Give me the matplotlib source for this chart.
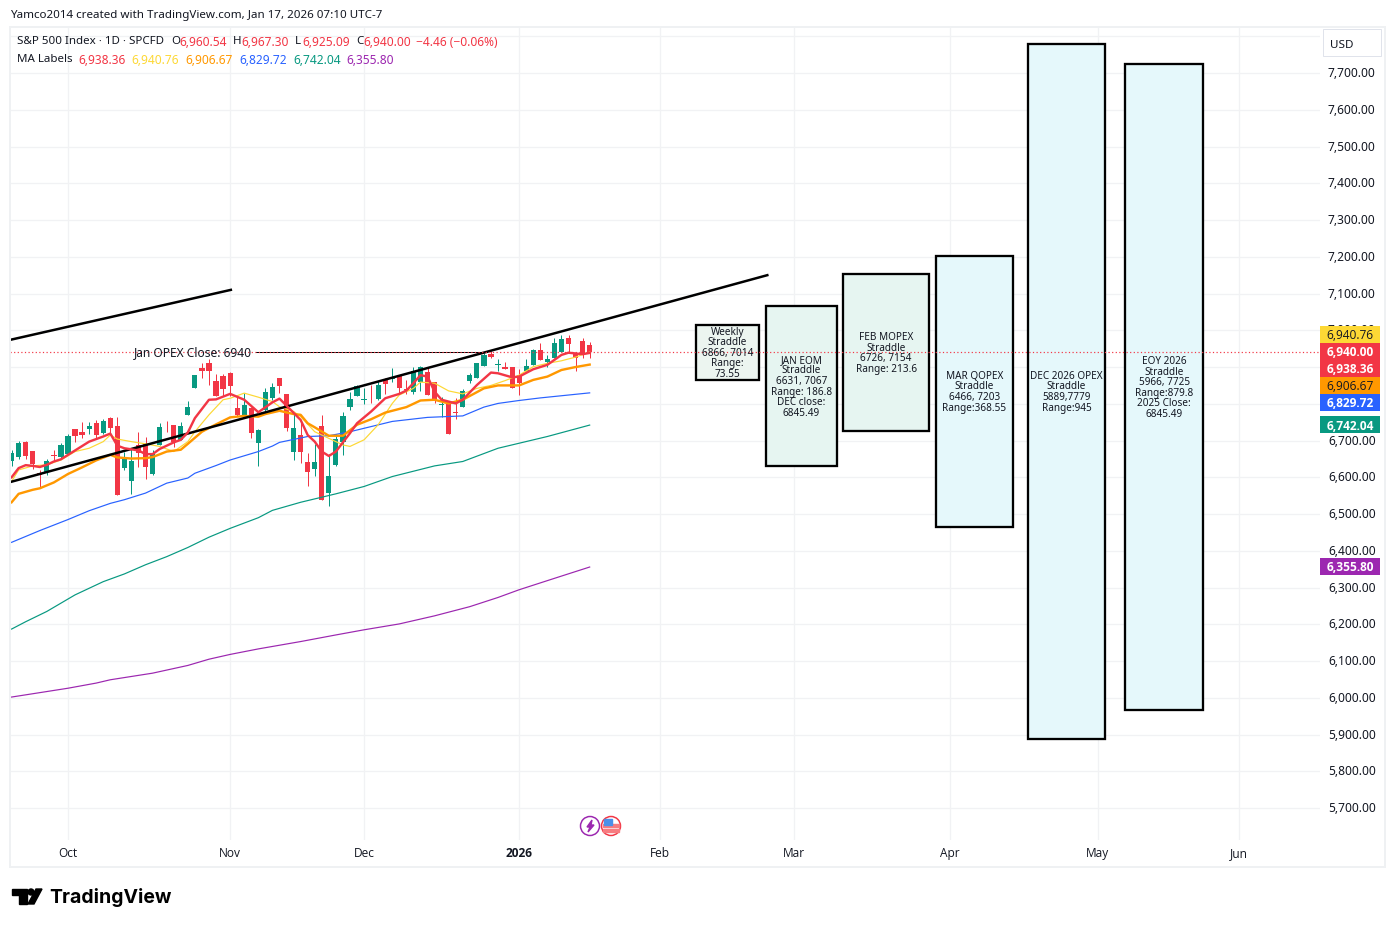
import numpy as np
import matplotlib
matplotlib.use("Agg")
import matplotlib.pyplot as plt
from matplotlib.patches import Circle, Polygon, Rectangle

plt.rcParams['font.family'] = ['Noto Sans', 'DejaVu Sans']

# Candles, bar 0 is Oct 1
bars = list(range(-8, 75))
opens = [6645, 6654, 6695, 6672, 6611, 6614, 6661, 6655, 6663, 6732, 6724, 6732, 6748, 6720, 6762, 6740,
         6626, 6590, 6687, 6691, 6609, 6688, 6738, 6743, 6702, 6770, 6843, 6898, 6912, 6862, 6876, 6884,
         6789, 6767, 6788, 6694, 6783, 6815, 6869, 6827, 6670, 6714, 6641, 6623, 6740, 6556, 6634, 6697,
         6792, 6821, 6811, 6833, 6812, 6867, 6867, 6877, 6840, 6832, 6859, 6886, 6859, 6798, 6803, 6778,
         6792, 6862, 6871, 6903, 6936, 6906, 6899, 6900, 6878, 6889, 6906, 6946, 6914, 6925, 6940, 6979,
         6939, 6970, 6960.54]
highs = [6673, 6700, 6699, 6672, 6620, 6649, 6675, 6693, 6718, 6732, 6751, 6750, 6756, 6758, 6763, 6763,
         6670, 6681, 6723, 6709, 6673, 6747, 6752, 6743, 6750, 6808, 6877, 6912, 6922, 6880, 6880, 6886,
         6821, 6830, 6790, 6731, 6842, 6856, 6871, 6827, 6774, 6753, 6666, 6690, 6770, 6663, 6718, 6777,
         6832, 6851, 6842, 6851, 6863, 6869, 6897, 6878, 6865, 6899, 6903, 6899, 6859, 6818, 6803, 6815,
         6840, 6883, 6912, 6939, 6945, 6921, 6913, 6900, 6895, 6921, 6949, 6966, 6933, 6978, 6987, 6987,
         6940, 6978, 6967.30]
lows = [6632, 6651, 6649, 6623, 6570, 6605, 6645, 6652, 6661, 6695, 6708, 6718, 6704, 6718, 6720, 6551,
        6620, 6555, 6629, 6596, 6605, 6688, 6724, 6682, 6702, 6770, 6843, 6871, 6851, 6822, 6822, 6821,
        6767, 6763, 6708, 6632, 6777, 6811, 6830, 6727, 6647, 6640, 6575, 6604, 6537, 6523, 6631, 6661,
        6783, 6821, 6800, 6801, 6811, 6827, 6860, 6827, 6827, 6827, 6836, 6824, 6803, 6763, 6718, 6759,
        6792, 6857, 6871, 6903, 6924, 6889, 6894, 6842, 6825, 6888, 6906, 6919, 6901, 6924, 6940, 6940,
        6888, 6924, 6925.09]
closes = [6667, 6694, 6657, 6637, 6605, 6645, 6658, 6688, 6713, 6713, 6714, 6740, 6714, 6753, 6734, 6551,
          6656, 6645, 6667, 6629, 6664, 6737, 6736, 6695, 6740, 6792, 6877, 6890, 6890, 6822, 6839, 6849,
          6769, 6797, 6720, 6729, 6831, 6846, 6849, 6735, 6734, 6670, 6615, 6641, 6537, 6604, 6705, 6767,
          6812, 6849, 6813, 6831, 6851, 6855, 6872, 6844, 6838, 6888, 6899, 6825, 6813, 6800, 6718, 6774,
          6836, 6878, 6910, 6932, 6928, 6907, 6895, 6843, 6857, 6903, 6946, 6919, 6922, 6965, 6976, 6964,
          6925, 6939, 6940.00]

# Moving averages
ma_red_x = [-8, -7, -6, -5, -4, -3, -2, -1, 0, 1, 3, 5, 6, 7, 8, 10, 11, 12, 13, 15, 16, 17, 18, 20, 21, 23, 25, 27,
            29, 30, 31, 33, 34, 35, 36, 37, 38, 39, 40, 41, 43, 45, 47, 48, 49, 50, 51, 52, 53, 55, 56, 58, 60, 61,
            63, 64, 66, 68, 70, 71, 73, 74]
ma_red_y = [6600, 6625, 6633, 6631, 6628, 6634, 6643, 6649, 6661, 6673, 6697, 6711, 6719, 6686, 6679, 6673, 6663,
            6663, 6677, 6695, 6702, 6722, 6761, 6811, 6812, 6827, 6811, 6777, 6804, 6814, 6795, 6756, 6715, 6697,
            6670, 6658, 6670, 6695, 6720, 6747, 6779, 6815, 6827, 6836, 6856, 6878, 6874, 6833, 6811, 6801, 6811,
            6851, 6885, 6883, 6872, 6874, 6894, 6906, 6933, 6939, 6935, 6938.36]
ma_yellow_x = [-8, -7, -5, -3, -1, 1, 3, 5, 6, 7, 9, 11, 13, 15, 17, 18, 20, 22, 23, 25, 27, 29, 30, 32, 33, 35, 37,
               39, 40, 42, 44, 46, 47, 49, 50, 52, 54, 56, 58, 60, 62, 64, 66, 68, 70, 72, 74]
ma_yellow_y = [6589, 6620, 6631, 6634, 6647, 6670, 6679, 6697, 6715, 6704, 6697, 6691, 6684, 6670, 6697, 6724, 6770,
               6811, 6815, 6829, 6818, 6806, 6792, 6779, 6765, 6724, 6706, 6688, 6684, 6702, 6743, 6801, 6824, 6842,
               6859, 6856, 6835, 6827, 6842, 6850, 6863, 6878, 6901, 6910, 6917, 6927, 6940.76]
ma_orange_x = [-8, -7, -5, -4, -2, 0, 2, 4, 6, 7, 9, 11, 12, 14, 16, 17, 19, 21, 23, 25, 27, 28, 30, 32, 33, 34, 35,
               37, 39, 41, 43, 45, 48, 50, 52, 54, 56, 59, 61, 64, 66, 68, 70, 72, 74]
ma_orange_y = [6532, 6555, 6566, 6570, 6586, 6609, 6627, 6646, 6661, 6654, 6651, 6652, 6655, 6670, 6675, 6691, 6724,
               6744, 6763, 6767, 6765, 6772, 6781, 6772, 6770, 6747, 6736, 6713, 6713, 6743, 6758, 6776, 6791, 6809,
               6811, 6801, 6811, 6842, 6850, 6850, 6865, 6874, 6892, 6900, 6906.67]
ma_blue_x = [-8, -4, 0, 3, 6, 8, 11, 14, 17, 18, 21, 23, 27, 29, 30, 34, 37, 40, 43, 46, 51, 56, 59, 61, 64, 67, 74]
ma_blue_y = [6423, 6455, 6485, 6509, 6529, 6539, 6557, 6584, 6598, 6611, 6632, 6647, 6670, 6685, 6695, 6711, 6713,
             6724, 6738, 6752, 6763, 6767, 6791, 6801, 6809, 6816, 6829.72]
ma_green_x = [-8, -6, -3, 1, 5, 8, 11, 14, 17, 20, 23, 27, 29, 33, 38, 42, 46, 52, 56, 61, 68, 74]
ma_green_y = [6187, 6207, 6235, 6280, 6316, 6337, 6362, 6384, 6409, 6437, 6461, 6490, 6510, 6532, 6555, 6575, 6602,
              6631, 6643, 6679, 6711, 6742.04]
ma_purple_x = [-8, -3, 0, 4, 6, 12, 17, 20, 23, 27, 33, 38, 42, 47, 52, 57, 61, 64, 69, 74]
ma_purple_y = [6002, 6017, 6026, 6040, 6049, 6067, 6088, 6105, 6118, 6133, 6153, 6171, 6185, 6201, 6223, 6248, 6273,
               6294, 6325, 6355.80]

# Drawn straddle boxes: bar range and price range
box_left = [89.1, 99.0, 110.0, 123.1, 136.2, 150.0]
box_right = [98.0, 109.1, 122.1, 134.0, 147.1, 161.0]
box_low = [6866, 6631, 6726, 6466, 5889, 5966]
box_high = [7014, 7067, 7154, 7203, 7779, 7725]
box_fill = ['#ECF5F0', '#E6F5F1', '#E6F5F1', '#E5F8FB', '#E5F8FB', '#E5F8FB']
box_text = ['Weekly\nStraddle\n6866, 7014\nRange:\n73.55',
            'JAN EOM\nStraddle\n6631, 7067\nRange: 186.8\nDEC close:\n6845.49',
            'FEB MOPEX\nStraddle\n6726, 7154\nRange: 213.6',
            'MAR QOPEX\nStraddle\n6466, 7203\nRange:368.55',
            'DEC 2026 OPEX\nStraddle\n5889,7779\nRange:945',
            'EOY 2026\nStraddle\n5966, 7725\nRange:879.8\n2025 Close:\n6845.49']

# Axis labels
price_ticks = list(range(5700, 7900, 100))
month_pos = [0, 23, 42, 64, 84, 103, 125.1, 146.1, 166.1]
month_names = ['Oct', 'Nov', 'Dec', '2026', 'Feb', 'Mar', 'Apr', 'May', 'Jun']

# Price tags on the right scale
tag_text = ['6,940.76', '6,940.00', '6,938.36', '6,906.67', '6,829.72', '6,742.04', '6,355.80']
tag_y = [335, 352, 369, 386, 403, 425.5, 567]
tag_color = ['#FDD835', '#F23645', '#F23645', '#FF9800', '#2962FF', '#089981', '#9C27B0']
tag_ink = ['#131722', 'white', 'white', '#131722', 'white', 'white', 'white']

UP = '#089981'
DOWN = '#F23645'
INK = '#131722'
GRID = '#F1F2F4'
PX = 0.72  # one pixel in points at dpi 100

W, H = 1395, 928
fig = plt.figure(figsize=(W / 100, H / 100), dpi=100, facecolor='white')

# Main chart, lined up with the pixel box of the reference
ax = fig.add_axes([10 / W, 1 - 841 / H, 1310 / W, 813 / H])
ax.set_xlim(-8.227, 177.6)
ax.set_ylim(5613, 7825.3)
for side in ax.spines.values():
    side.set_visible(False)
ax.tick_params(length=0)
ax.set_xticks([])
ax.set_yticks([])

for p in price_ticks:
    ax.axhline(p, color=GRID, lw=1.3 * PX, zorder=0)
for m in month_pos:
    ax.axvline(m, color=GRID, lw=1.3 * PX, zorder=0)

# Candles
o = np.array(opens)
c = np.array(closes)
colors = [UP if b >= a else DOWN for a, b in zip(opens, closes)]
ax.vlines(bars, lows, highs, colors=colors, lw=1 * PX, zorder=2)
ax.bar(bars, np.maximum(np.abs(c - o), 1.5), bottom=np.minimum(o, c), width=0.74, color=colors, zorder=3)

# Moving averages
ax.plot(ma_purple_x, ma_purple_y, color='#9C27B0', lw=1.2 * PX, zorder=4)
ax.plot(ma_green_x, ma_green_y, color='#089981', lw=1.2 * PX, zorder=4)
ax.plot(ma_blue_x, ma_blue_y, color='#2962FF', lw=1.2 * PX, zorder=4)
ax.plot(ma_yellow_x, ma_yellow_y, color='#FDD835', lw=1.2 * PX, zorder=4)
ax.plot(ma_orange_x, ma_orange_y, color='#FF9800', lw=2.4 * PX, zorder=4)
ax.plot(ma_red_x, ma_red_y, color='#F23645', lw=2.4 * PX, zorder=6)

# Trend lines
ax.plot([-8.2, 23.1], [6974, 7110], color='black', lw=2.5 * PX, zorder=5)
ax.plot([-8.2, 99.2], [6587, 7150], color='black', lw=2.5 * PX, zorder=5)

# Straddle boxes
for i in range(len(box_left)):
    ax.add_patch(Rectangle((box_left[i], box_low[i]), box_right[i] - box_left[i], box_high[i] - box_low[i],
                           facecolor=box_fill[i], edgecolor='black', lw=2.3 * PX, zorder=5))
    ax.text((box_left[i] + box_right[i]) / 2, (box_low[i] + box_high[i]) / 2, box_text[i], ha='center', va='center',
            fontsize=7.2, color=INK, linespacing=0.95, zorder=7)

# Last price line and the Jan OPEX line
ax.axhline(6940, color='#F23645', lw=1.2 * PX, ls=(0, (1, 2)), zorder=6)
ax.plot([26.6, 59.4], [6940, 6940], color='black', lw=1 * PX, zorder=5)
ax.text(17.7, 6945, 'Jan OPEX Close: 6940', ha='center', va='center_baseline', fontsize=8.6, color=INK, zorder=7)

for p in price_ticks[:-1]:
    ax.annotate(f'{p:,.2f}', (1, p), xycoords=('axes fraction', 'data'), xytext=(8 * PX, 2 * PX),
                textcoords='offset points', va='center_baseline', fontsize=8.6, color=INK, annotation_clip=False)

for m, name in zip(month_pos, month_names):
    ax.annotate(name, (m, 0), xycoords=('data', 'axes fraction'), xytext=(0, -11.5 * PX), textcoords='offset points',
                ha='center', va='center_baseline', fontsize=8.6, color=INK, annotation_clip=False,
                family='Open Sans', fontweight='bold' if name == '2026' else 'normal')

# Overlay in pixel coordinates for the screenshot furniture
top = fig.add_axes([0, 0, 1, 1], facecolor='none')
top.set_xlim(0, W)
top.set_ylim(H, 0)
top.axis('off')

top.add_patch(Rectangle((10, 27.5), 1375, 840, fill=False, edgecolor='#EFF1F3', lw=2 * PX))

for text, y, bg, ink in zip(tag_text, tag_y, tag_color, tag_ink):
    top.add_patch(Rectangle((1320, y - 8.5), 60, 17, facecolor=bg, edgecolor='none', zorder=5))
    top.text(1350, y - 0.5, text, ha='center', va='center_baseline', fontsize=8.6, color=ink, zorder=6,
             family='Open Sans', fontweight='bold' if ink == 'white' else 'normal')

top.add_patch(Rectangle((1323, 30), 58, 27, facecolor='white', edgecolor='#E0E3EB', lw=1 * PX, zorder=5))
top.text(1342, 44, 'USD', ha='center', va='center_baseline', fontsize=8.4, color=INK, zorder=6)

top.text(10, 14, 'Yamco2014 created with TradingView.com, Jan 17, 2026 07:10 UTC-7', va='center_baseline',
         fontsize=8.35, color=INK)

top.text(17, 40.5, 'S&P 500 Index · 1D · SPCFD', va='center_baseline', fontsize=8.3, color=INK)
for x, s, col in [(171, 'O', INK), (179, '6,960.54', DOWN), (233, 'H', INK), (241, '6,967.30', DOWN),
                  (295, 'L', INK), (302, '6,925.09', DOWN), (356, 'C', INK), (363, '6,940.00', DOWN),
                  (416, '−4.46 (−0.06%)', DOWN)]:
    top.text(x, 40.5, s, va='center_baseline', fontsize=8.6 if col == DOWN else 8.3, color=col)
top.text(17, 58.5, 'MA Labels', va='center_baseline', fontsize=8.3, color=INK)
for x, s, col in zip([78, 131, 185, 239, 293, 346], ['6,938.36', '6,940.76', '6,906.67', '6,829.72', '6,742.04', '6,355.80'],
                     ['#F23645', '#FDD835', '#FF9800', '#2962FF', '#089981', '#9C27B0']):
    top.text(x, 58.5, s, va='center_baseline', fontsize=8.6, color=col)

# Event markers under the candles
top.add_patch(Circle((590, 827), 9.5, facecolor='white', edgecolor='#9C27B0', lw=1.5 * PX))
top.add_patch(Polygon([(592, 821), (587, 828), (590, 828), (588, 833), (594, 826), (591, 826)], color='#9C27B0'))
top.add_patch(Circle((611, 827), 9.5, facecolor='white', edgecolor='#F23645', lw=1.5 * PX))
top.add_patch(Rectangle((603, 825), 16, 2.5, color='#F77C80'))
top.add_patch(Rectangle((603, 830), 16, 2.5, color='#F77C80'))
top.add_patch(Rectangle((604, 820), 8, 6, color='#4A90E8'))

# TradingView logo
top.add_patch(Polygon([(12, 890), (27, 890), (27, 905), (19, 905), (19, 896), (12, 896)], color='black'))
top.add_patch(Circle((31, 893), 3, color='black'))
top.add_patch(Polygon([(36, 890), (42, 890), (34, 905), (28, 905)], color='black'))
top.text(49, 898, 'TradingView', va='center', fontsize=14, color='black', family='Inter', fontweight='bold')

fig.savefig('out.png', dpi=100, facecolor='white')
